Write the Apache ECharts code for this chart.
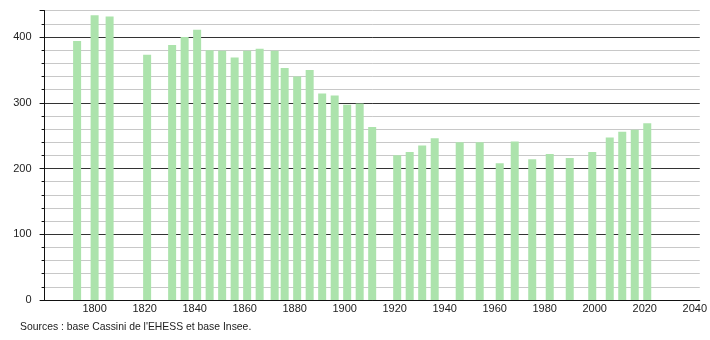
<!DOCTYPE html>
<html><head><meta charset="utf-8">
<script src="https://cdn.jsdelivr.net/npm/echarts@6/dist/echarts.min.js"></script>
<style>html,body{margin:0;padding:0;background:#fff}#c{width:710px;height:340px}</style>
</head><body><div id="c"></div>
<script>
var years = [1793,1800,1806,1821,1831,1836,1841,1846,1851,1856,1861,1866,1872,1876,1881,1886,1891,1896,1901,1906,1911,1921,1926,1931,1936,1946,1954,1962,1968,1975,1982,1990,1999,2006,2011,2016,2021];
var population = [394,433,431,373,388,400,411,380,379,369,379,382,379,353,340,350,314,311,297,299,263,220,225,235,246,240,240,208,241,214,222,216,225,247,256,259,269];
var sourceText = "Sources : base Cassini de l'EHESS et base Insee.";

var font = 'Liberation Sans';
var chart = echarts.init(document.getElementById('c'));
chart.setOption({
  animation: false,
  textStyle: {fontFamily: font},
  title: {text: sourceText, left: 15, top: 317,
    textStyle: {fontSize: 10.4, fontWeight: 'normal', color: '#222', fontFamily: font}},
  grid: {left: 44.6, right: 9, top: 10.7, bottom: 40},
  xAxis: {
    type: 'value', min: 1780, max: 2042, interval: 20,
    axisLine: {show: true, onZero: false, lineStyle: {color: '#111', width: 1}},
    axisTick: {show: false},
    splitLine: {show: false},
    axisLabel: {fontSize: 11, color: '#222', margin: 3, fontFamily: font,
      formatter: function (v) { return (v % 20 === 0 && v !== 1780) ? String(v) : ''; }}
  },
  yAxis: [{
    type: 'value', min: 0, max: 440, interval: 20,
    axisLine: {show: true, lineStyle: {color: '#111'}},
    axisTick: {show: true, length: 3, lineStyle: {color: '#111'}},
    axisLabel: {show: false},
    splitLine: {show: true, lineStyle: {color: ['#333', '#c8c8c8', '#c8c8c8', '#c8c8c8', '#c8c8c8'], width: 1}}
  }, {
    type: 'value', min: 0, max: 440, interval: 100, position: 'left',
    axisLine: {show: false},
    axisTick: {show: true, length: 5, lineStyle: {color: '#111'}},
    splitLine: {show: false},
    axisLabel: {fontSize: 11, color: '#222', margin: 13, fontFamily: font,
      formatter: function (v) { return v % 100 === 0 ? String(v) : ''; }}
  }],
  series: [{
    type: 'bar', barWidth: 8, yAxisIndex: 0,
    itemStyle: {color: '#ace3ac'},
    data: years.map(function (y, i) { return [y, population[i]]; })
  }]
});
</script></body></html>
